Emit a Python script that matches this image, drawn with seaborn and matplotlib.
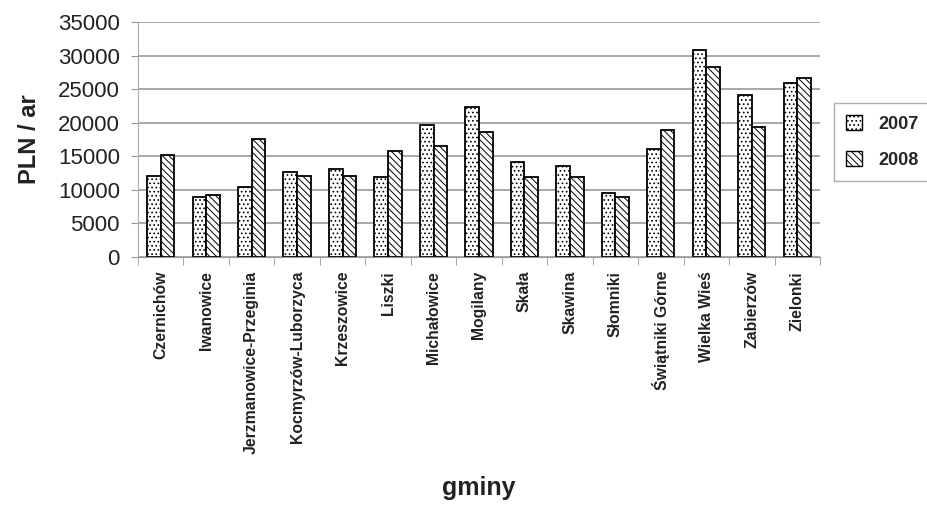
import numpy as np
import pandas as pd
import seaborn as sns
import matplotlib.pyplot as plt
from matplotlib.patches import Patch

# data
gminy = ['Czernichów', 'Iwanowice', 'Jerzmanowice-Przeginia', 'Kocmyrzów-Luborzyca',
         'Krzeszowice', 'Liszki', 'Michałowice', 'Mogilany', 'Skała', 'Skawina',
         'Słomniki', 'Świątniki Górne', 'Wielka Wieś', 'Zabierzów', 'Zielonki']
v2007 = [12100, 9000, 10500, 12650, 13100, 11850, 19650, 22300, 14150, 13500,
         9500, 16050, 30850, 24100, 25950]
v2008 = [15250, 9200, 17600, 12100, 12100, 15750, 16600, 18650, 11850, 11850,
         8950, 18900, 28300, 19400, 26700]
years = ['2007', '2008']
hatches = ['....', '\\\\\\\\\\']

df = pd.DataFrame({'gmina': gminy * 2,
                   'rok': [years[0]] * len(gminy) + [years[1]] * len(gminy),
                   'val': v2007 + v2008})

sns.set_style('white')
plt.rcParams['font.family'] = ['Liberation Sans', 'DejaVu Sans']
plt.rcParams['hatch.linewidth'] = 0.7

fig = plt.figure(figsize=(9.28, 5.05), dpi=100)
ax = fig.add_axes([0.1487, 0.491, 0.7349, 0.4653])

sns.barplot(data=df, x='gmina', y='val', hue='rok', palette=['white', 'white'],
            width=0.6, gap=0, edgecolor='black', linewidth=1.3, legend=False, ax=ax)

n = len(gminy)
for i, bar in enumerate(ax.patches[:2 * n]):
    bar.set_hatch(hatches[i // n])

ax.set_ylim(0, 35000)
ax.set_xlim(-0.5, n - 0.5)
ax.set_yticks(np.arange(0, 35001, 5000))
ax.yaxis.grid(True, color='#999999', linewidth=1.2)
ax.set_axisbelow(True)
for s in ['top', 'right']:
    ax.spines[s].set_visible(False)
ax.spines['left'].set_color('#aaaaaa')
ax.spines['bottom'].set_color('#999999')

ax.tick_params(axis='y', labelsize=16, length=5, color='#999999', left=True, pad=8,
               labelcolor='#222222')
ax.set_xticks(np.arange(n))
ax.set_xticklabels(gminy, rotation=90, fontsize=11.3, fontweight='bold', color='#222222')
ax.tick_params(axis='x', length=0, pad=10)
# ticks between categories
ax.set_xticks(np.arange(-0.5, n, 1), minor=True)
ax.tick_params(axis='x', which='minor', length=6, color='#999999', bottom=True)

ax.set_ylabel('PLN / ar', fontsize=17, fontweight='bold', labelpad=12, color='#222222')
ax.set_xlabel('gminy', fontsize=18, fontweight='bold', color='#222222')
ax.xaxis.set_label_coords(0.5, -0.93)

handles = [Patch(facecolor='white', edgecolor='black', hatch=h, label=y)
           for y, h in zip(years, hatches)]
leg = ax.legend(handles=handles, loc='center left', bbox_to_anchor=(1.012, 0.49),
                frameon=True, fancybox=False, edgecolor='#999999',
                prop={'weight': 'bold', 'size': 13},
                handlelength=0.9, handleheight=0.9, labelspacing=1.0,
                borderpad=0.7, borderaxespad=0.3, handletextpad=0.9)

fig.savefig('out.png', dpi=100)
